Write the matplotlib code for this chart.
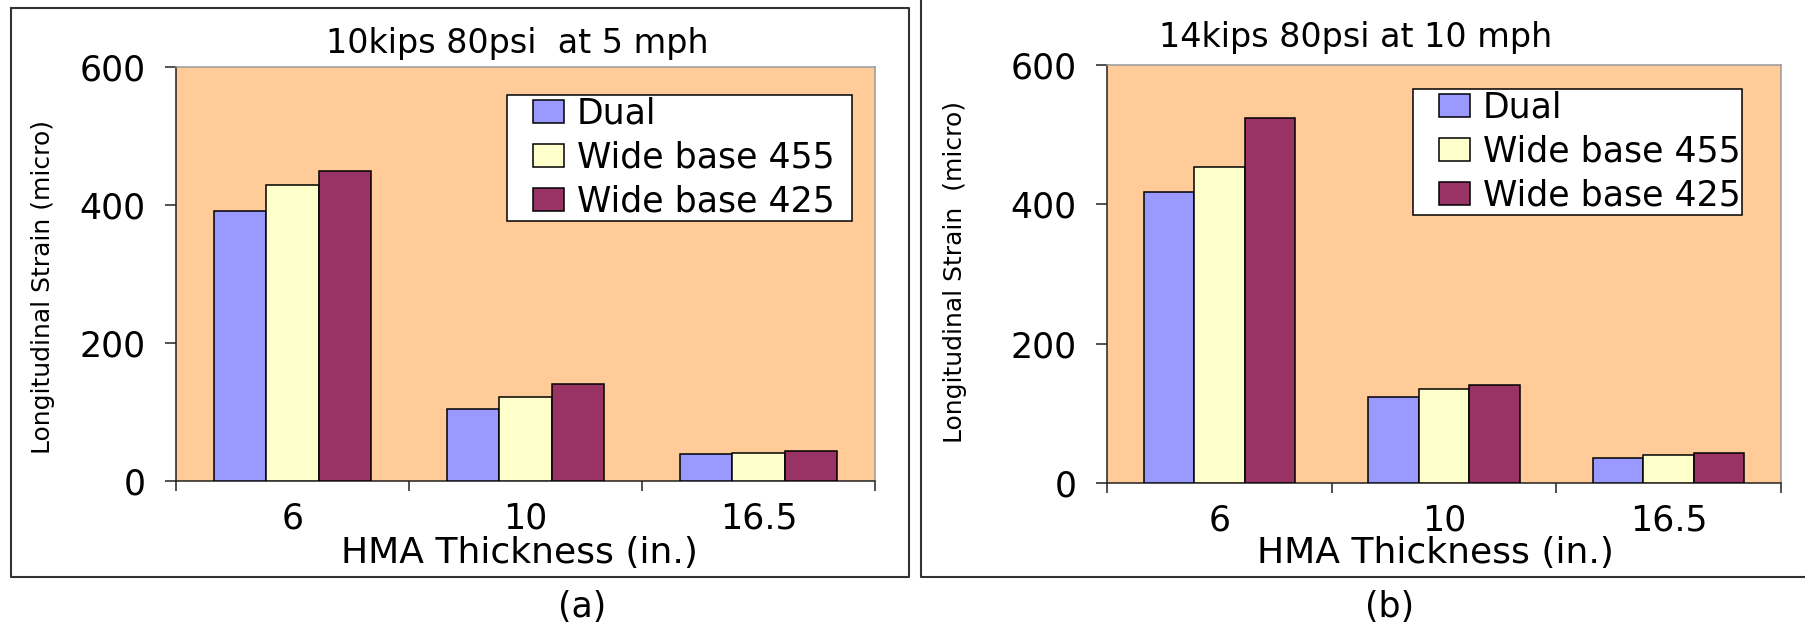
import matplotlib
matplotlib.use("Agg")
import matplotlib.pyplot as plt
import matplotlib.patches as mpatches
from matplotlib.legend_handler import HandlerPatch
from matplotlib.lines import Line2D
import numpy as np

# --- data ---
thickness = ["6", "10", "16.5"]
series_names = ["Dual", "Wide base 455", "Wide base 425"]

strain_a_dual = [392, 104, 39]
strain_a_wb455 = [429, 122, 41]
strain_a_wb425 = [450, 140, 44]

strain_b_dual = [417, 124, 36]
strain_b_wb455 = [454, 135, 40]
strain_b_wb425 = [524, 140, 43]

title_a = "10kips 80psi  at 5 mph"
title_b = "14kips 80psi at 10 mph"
ylabel_a = "Longitudinal Strain (micro)"
ylabel_b = "Longitudinal Strain  (micro)"
xlabel = "HMA Thickness (in.)"

bar_colors = ["#9999FF", "#FFFFCC", "#993366"]
plot_bg = "#FFCC99"

W, H = 1805, 626
FS = 25
LEG_FS = 25
SQ = 22  # legend key size, px


def fx(px):
    return px / W


def fy(py):
    return 1 - py / H


def indented_square(legend, orig_handle, xdescent, ydescent, width, height, fontsize):
    # small square key pushed to the right end of the handle box (Excel style indent)
    return mpatches.Rectangle((-xdescent + width - SQ, -ydescent), SQ, height)


def draw_panel(ax, values, ylabel, ylab_xy, xlab_xy, leg_box):
    x = np.arange(len(thickness))
    width = 0.225
    for i, (vals, name, col) in enumerate(zip(values, series_names, bar_colors)):
        ax.bar(x + (i - 1) * width, vals, width, color=col, edgecolor="black",
               linewidth=1.1, label=name, zorder=3)

    ax.set_facecolor(plot_bg)
    ax.set_xlim(-0.5, 2.5)
    ax.set_ylim(0, 600)
    ax.set_yticks([0, 200, 400, 600])
    ax.tick_params(axis="y", direction="out", length=8, width=1.1, pad=14,
                   labelsize=FS, color="#222222")

    # ticks on category borders, labels at centres
    ax.set_xticks([-0.5, 0.5, 1.5, 2.5])
    ax.set_xticklabels([])
    ax.tick_params(axis="x", which="major", direction="out", length=7, width=1.1,
                   color="#222222")
    ax.set_xticks(x, minor=True)
    ax.set_xticklabels(thickness, minor=True)
    ax.tick_params(axis="x", which="minor", length=0, pad=15, labelsize=FS)

    for s in ["left", "bottom"]:
        ax.spines[s].set_color("#222222")
        ax.spines[s].set_linewidth(1.1)
    for s in ["top", "right"]:
        ax.spines[s].set_color("#999999")
        ax.spines[s].set_linewidth(1.1)

    ax.set_ylabel(ylabel, fontsize=18)
    ax.yaxis.set_label_coords(*ylab_xy)
    ax.yaxis.label.set_va("center")
    ax.set_xlabel(xlabel, fontsize=26)
    ax.xaxis.set_label_coords(*xlab_xy)
    ax.xaxis.label.set_va("center")

    proxies = [mpatches.Patch(facecolor=c, edgecolor="black", linewidth=1.1, label=n)
               for c, n in zip(bar_colors, series_names)]
    fs_px = LEG_FS * 100 / 72
    x0, y0, x1, y1 = leg_box
    leg = ax.legend(handles=proxies, loc="upper left", mode="expand",
                    bbox_to_anchor=(fx(x0), fy(y1), fx(x1) - fx(x0), fy(y0) - fy(y1)),
                    bbox_transform=ax.figure.transFigure, borderaxespad=0,
                    fontsize=LEG_FS, handlelength=(33 + SQ) / fs_px,
                    handleheight=SQ / fs_px, handletextpad=0.38,
                    labelspacing=0.29, borderpad=0.05,
                    handler_map={mpatches.Patch: HandlerPatch(patch_func=indented_square)},
                    fancybox=False, framealpha=1, edgecolor="black")
    leg.get_frame().set_linewidth(1.1)
    leg.set_zorder(5)


fig = plt.figure(figsize=(W / 100, H / 100), dpi=100)

ax_a = fig.add_axes([fx(176), fy(481), fx(875) - fx(176), fy(67) - fy(481)])
ax_b = fig.add_axes([fx(1107), fy(483), fx(1781) - fx(1107), fy(65) - fy(483)])

draw_panel(ax_a, [strain_a_dual, strain_a_wb455, strain_a_wb425], ylabel_a,
           (-0.19, 0.469), (0.492, -0.174), (507, 95, 852, 216))
draw_panel(ax_b, [strain_b_dual, strain_b_wb455, strain_b_wb425], ylabel_b,
           (-0.2255, 0.505), (0.487, -0.1675), (1413, 89, 1742, 215))

fig.text(fx(517), fy(43), title_a, ha="center", va="center", fontsize=24)
fig.text(fx(1356), fy(38), title_b, ha="center", va="center", fontsize=24)
fig.text(fx(582), fy(607), "(a)", ha="center", va="center", fontsize=FS)
fig.text(fx(1390), fy(607), "(b)", ha="center", va="center", fontsize=FS)

# outer frames around the two panels
frame_kw = dict(color="#333333", linewidth=1.5, transform=fig.transFigure)
fig.add_artist(Line2D([fx(11), fx(909), fx(909), fx(11), fx(11)],
                      [fy(8), fy(8), fy(577), fy(577), fy(8)], **frame_kw))
fig.add_artist(Line2D([fx(921), fx(921), fx(1805)],
                      [fy(0), fy(577), fy(577)], **frame_kw))

fig.savefig("out.png", dpi=100)
